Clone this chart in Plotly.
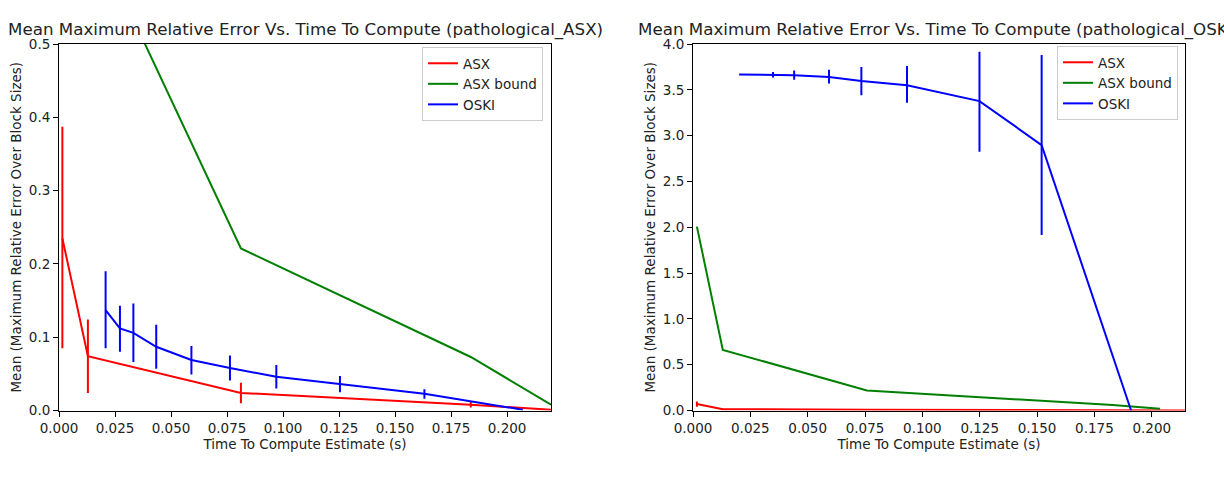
import plotly.graph_objects as go

# ---------------- data: left panel (pathological_ASX) ----------------
asx_x_L = [0.0015, 0.0129, 0.0812, 0.1838, 0.2196]
asx_y_L = [0.235, 0.074, 0.024, 0.008, 0.001]
asx_ep_L = [0.152, 0.050, 0.014, 0.004, 0.0]
asx_em_L = [0.150, 0.050, 0.014, 0.004, 0.0]

bound_x_L = [0.0015, 0.0129, 0.0812, 0.1838, 0.2196]
bound_y_L = [2.0, 0.666, 0.221, 0.073, 0.008]

oski_x_L = [0.0208, 0.0272, 0.0332, 0.0434, 0.0591, 0.0763, 0.0970, 0.1254, 0.1631, 0.2070]
oski_y_L = [0.137, 0.112, 0.106, 0.087, 0.069, 0.058, 0.046, 0.036, 0.023, 0.001]
oski_ep_L = [0.053, 0.031, 0.040, 0.030, 0.019, 0.017, 0.016, 0.011, 0.006, 0.0]
oski_em_L = [0.052, 0.032, 0.040, 0.030, 0.020, 0.017, 0.016, 0.011, 0.007, 0.0]

# ---------------- data: right panel (pathological_OSKI) ----------------
asx_x_R = [0.0017, 0.0130, 0.0758, 0.1830, 0.2145]
asx_y_R = [0.070, 0.015, 0.008, 0.003, 0.001]
asx_ep_R = [0.028, 0.0, 0.0, 0.0, 0.0]
asx_em_R = [0.030, 0.0, 0.0, 0.0, 0.0]

bound_x_R = [0.0017, 0.0130, 0.0758, 0.1830, 0.2036]
bound_y_R = [2.007, 0.662, 0.218, 0.060, 0.020]

oski_x_R = [0.0201, 0.0349, 0.0441, 0.0593, 0.0734, 0.0933, 0.1249, 0.1520, 0.1910]
oski_y_R = [3.668, 3.665, 3.660, 3.640, 3.595, 3.550, 3.377, 2.897, 0.0]
oski_ep_R = [0.0, 0.030, 0.050, 0.080, 0.155, 0.210, 0.538, 0.982, 0.0]
oski_em_R = [0.0, 0.030, 0.050, 0.070, 0.155, 0.190, 0.553, 0.981, 0.0]

titles = ["Mean Maximum Relative Error Vs. Time To Compute (pathological_ASX)",
          "Mean Maximum Relative Error Vs. Time To Compute (pathological_OSKI)"]
x_label = "Time To Compute Estimate (s)"
y_label = "Mean (Maximum Relative Error Over Block Sizes)"
names = ["ASX", "ASX bound", "OSKI"]

RED, GREEN, BLUE = "#ff0000", "#008000", "#0000ff"
FONT = "DejaVu Sans"
FS = 13.5
LW = 2

W, H = 1224, 477
fig = go.Figure()


def err(ep, em, color):
    return dict(type="data", symmetric=False, array=ep, arrayminus=em,
                color=color, thickness=LW, width=0, visible=True)


def add_panel(xa, ya, leg, data):
    (ax, ay, aep, aem), (bx, by), (ox, oy, oep, oem) = data
    fig.add_trace(go.Scatter(x=ax, y=ay, mode="lines", name=names[0],
                             line=dict(color=RED, width=LW),
                             error_y=err(aep, aem, RED),
                             xaxis=xa, yaxis=ya, legend=leg))
    fig.add_trace(go.Scatter(x=bx, y=by, mode="lines", name=names[1],
                             line=dict(color=GREEN, width=LW),
                             xaxis=xa, yaxis=ya, legend=leg))
    fig.add_trace(go.Scatter(x=ox, y=oy, mode="lines", name=names[2],
                             line=dict(color=BLUE, width=LW),
                             error_y=err(oep, oem, BLUE),
                             xaxis=xa, yaxis=ya, legend=leg))


add_panel("x", "y", "legend",
          [(asx_x_L, asx_y_L, asx_ep_L, asx_em_L), (bound_x_L, bound_y_L),
           (oski_x_L, oski_y_L, oski_ep_L, oski_em_L)])
add_panel("x2", "y2", "legend2",
          [(asx_x_R, asx_y_R, asx_ep_R, asx_em_R), (bound_x_R, bound_y_R),
           (oski_x_R, oski_y_R, oski_ep_R, oski_em_R)])

ydom = [1 - 410.5 / H, 1 - 44 / H]
xdomL = [59 / W, 551 / W]
xdomR = [693 / W, 1185 / W]

common_axis = dict(showline=True, mirror=True, linecolor="black", linewidth=1,
                   ticks="outside", ticklen=5, tickwidth=1, tickcolor="black",
                   showgrid=False, zeroline=False, automargin=False,
                   tickfont=dict(family=FONT, size=FS, color="#222"))
title_font = dict(family=FONT, size=FS, color="#222")

fig.update_layout(
    width=W, height=H, margin=dict(l=0, r=0, t=0, b=0, autoexpand=False),
    paper_bgcolor="white", plot_bgcolor="white",
    font=dict(family=FONT, size=FS, color="#222"),
    xaxis=dict(domain=xdomL, range=[0, 0.2196], dtick=0.025, tick0=0, tickformat=".3f",
               anchor="y", title=dict(text=x_label, font=title_font, standoff=4), **common_axis),
    yaxis=dict(domain=ydom, range=[0, 0.5], dtick=0.1, tick0=0, tickformat=".1f",
               anchor="x", title=dict(text=y_label, font=title_font, standoff=4), **common_axis),
    xaxis2=dict(domain=xdomR, range=[0, 0.2145], dtick=0.025, tick0=0, tickformat=".3f",
                anchor="y2", title=dict(text=x_label, font=title_font, standoff=4), **common_axis),
    yaxis2=dict(domain=ydom, range=[0, 4.0], dtick=0.5, tick0=0, tickformat=".1f",
                anchor="x2", title=dict(text=y_label, font=title_font, standoff=4), **common_axis),
    legend=dict(x=543 / W, y=1 - 47 / H, xanchor="right", yanchor="top",
                bgcolor="rgba(255,255,255,0.8)", bordercolor="#cccccc", borderwidth=1,
                font=dict(family=FONT, size=FS, color="#222"), itemwidth=30,
                tracegroupgap=0),
    legend2=dict(x=1178 / W, y=1 - 46 / H, xanchor="right", yanchor="top",
                 bgcolor="rgba(255,255,255,0.8)", bordercolor="#cccccc", borderwidth=1,
                 font=dict(family=FONT, size=FS, color="#222"), itemwidth=30,
                 tracegroupgap=0),
    showlegend=True,
)

for xd, t in zip([xdomL, xdomR], titles):
    fig.add_annotation(text=t, x=(xd[0] + xd[1]) / 2, y=1 - 30 / H,
                       xref="paper", yref="paper", xanchor="center", yanchor="middle",
                       showarrow=False, font=dict(family=FONT, size=16.7, color="#222"))

fig.write_html("out.html")
